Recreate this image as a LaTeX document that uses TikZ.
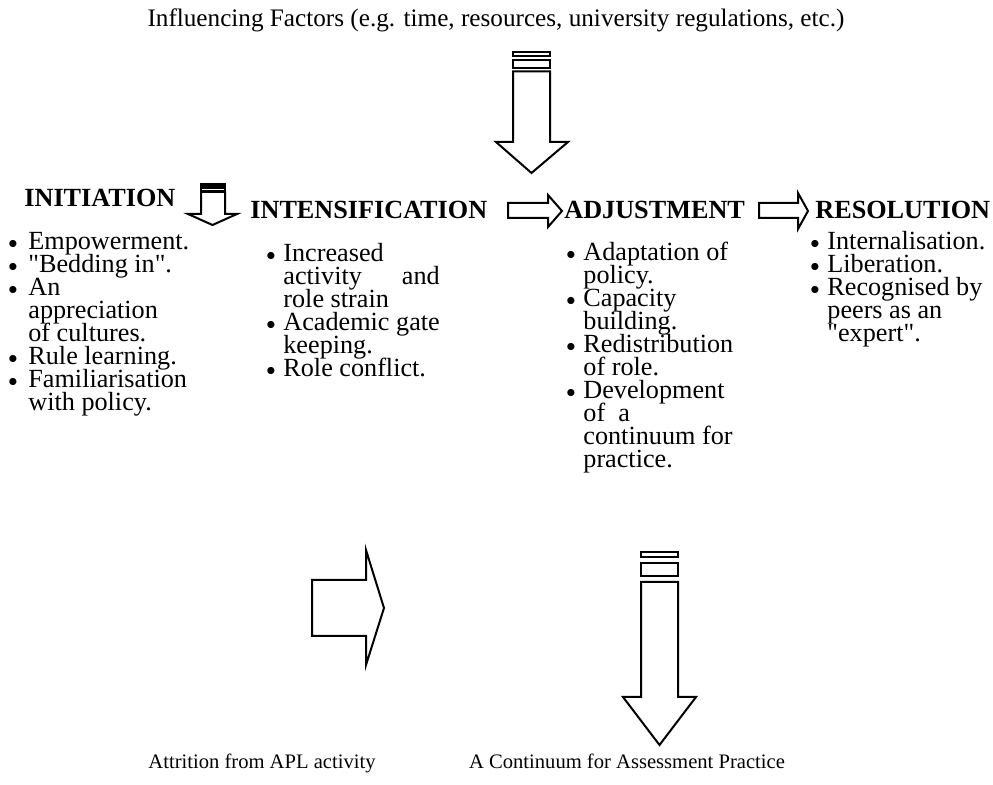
\documentclass[tikz,border=0pt]{standalone}
\usepackage{fontspec}
\setmainfont{Liberation Serif}
\usepackage{calc}

\newlength{\bulind}
\setlength{\bulind}{8.5pt}
\newcommand{\bul}{\par\noindent\hangindent=\bulind\hangafter=1\makebox[\bulind][l]{\raisebox{0.9pt}{\fontsize{9}{9}\selectfont$\bullet$}}}
\newcommand{\blist}[1]{\parbox[t]{220pt}{\fontsize{13.1}{11.5}\selectfont\lineskiplimit=-20pt #1}}

\begin{document}
\begin{tikzpicture}[x=0.5pt,y=-0.5pt,
	every node/.style={inner sep=0pt,font=\fontsize{13.1}{11.5}\selectfont},
	head/.style={anchor=base west,font=\fontsize{13.1}{11.5}\selectfont\bfseries},
	stage/.style={anchor=base west},
	caption/.style={anchor=base,font=\fontsize{10.3}{12}\selectfont},
	blockarrow/.style={draw,line width=1pt,line join=miter}]
		\useasboundingbox (0,0) rectangle (993,785);
		
		\node[anchor=base,font=\fontsize{12.6}{14}\selectfont] (factors) at (496,27) {Influencing Factors (e.g. time, resources, university regulations, etc.)};
		
		% stage headings
		\node[head] (initiation) at (24,207) {INITIATION};
		\node[head] (intens) at (250,219) {INTENSIFICATION};
		\node[head] (adjust) at (564,219) {ADJUSTMENT};
		\node[head] (resol) at (815,219) {RESOLUTION};
		
		% bullet lists
		\node[stage] (initlist) at (8,250) {\blist{\setlength{\bulind}{10pt}%
			\bul Empowerment.
			\bul \textquotedbl Bedding in\textquotedbl.
			\bul An\\appreciation\\of cultures.
			\bul Rule learning.
			\bul Familiarisation\\with policy.}};
		\node[stage] (intenslist) at (266,262) {\blist{%
			\bul Increased\\\makebox[\widthof{Academic gate}][s]{activity\hfill and}\\role strain
			\bul Academic gate\\keeping.
			\bul Role conflict.}};
		\node[stage] (adjustlist) at (566,261) {\blist{%
			\bul Adaptation of\\policy.
			\bul Capacity\\building.
			\bul Redistribution\\of role.
			\bul Development\\of\ \ a\\continuum for\\practice.}};
		\node[stage] (resollist) at (810,250) {\blist{%
			\bul Internalisation.
			\bul Liberation.
			\bul Recognised by\\peers as an\\\textquotedbl expert\textquotedbl.}};
		
		\node[caption] (attrition) at (262,769) {Attrition from APL activity};
		\node[caption] (continuum) at (627,769) {A Continuum for Assessment Practice};
		
		% influencing factors arrow
		\draw[blockarrow] (513,52.5) rectangle (550,56.5);
		\draw[blockarrow] (513,60.5) rectangle (550,68.5);
		\draw[blockarrow] (513,71.5) -- (513,142) -- (496,142) -- (531.5,173) -- (568,142) -- (550,142) -- (550,71.5) -- cycle;
		
		% small arrow after initiation
		\draw[blockarrow] (201,184) rectangle (225,186.5);
		\draw[blockarrow] (201,188) rectangle (225,191);
		\draw[blockarrow] (201,192) -- (201,214) -- (188,214) -- (212.5,225) -- (237,214) -- (225,214) -- (225,192) -- cycle;
		
		% arrows between stages
		\draw[blockarrow] (508,203) -- (548,203) -- (548,195) -- (562,211) -- (548,227) -- (548,218) -- (508,218) -- cycle;
		\draw[blockarrow] (759,203) -- (798,203) -- (798,193) -- (808,211) -- (798,229) -- (798,218) -- (759,218) -- cycle;
		
		% attrition arrow
		\draw[blockarrow] (312,580) -- (366,580) -- (366,550) -- (384,608) -- (366,665) -- (366,636) -- (312,636) -- cycle;
		
		% continuum arrow
		\draw[blockarrow] (641,552) rectangle (678,557);
		\draw[blockarrow] (641,563) rectangle (678,576);
		\draw[blockarrow] (641,582) -- (641,697) -- (623,697) -- (659.5,745) -- (696,697) -- (678,697) -- (678,582) -- cycle;
	\end{tikzpicture}
\end{document}
